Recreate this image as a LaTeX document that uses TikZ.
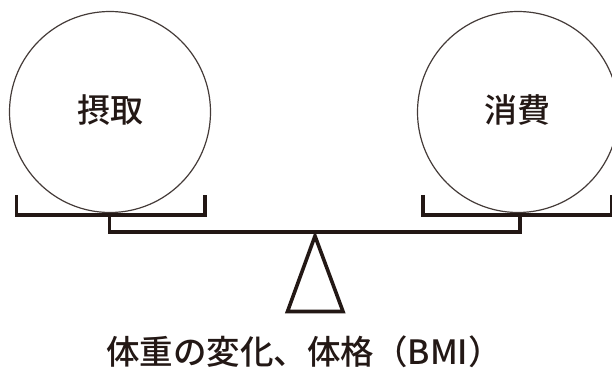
\documentclass[tikz,border=0pt]{standalone}
\usepackage{fontspec}
\newfontfamily\jp{Noto Sans CJK JP Medium}
\definecolor{ink}{HTML}{231815}
\begin{document}
\begin{tikzpicture}[x=1pt,y=-1pt,
  pan/.style={line width=3.6pt,draw=ink,line cap=butt,line join=miter},
  weight/.style={circle,draw=ink!85,line width=1.2pt,minimum size=201pt,inner sep=0pt},
  wlabel/.style={font=\jp\fontsize{33}{36}\selectfont,text=ink,inner sep=0pt},
  lbl/.style={font=\jp\fontsize{33.5}{36}\selectfont,text=ink,inner sep=0pt}]
\useasboundingbox (0,0) rectangle (612,371);
\node[weight] (in) at (110,112) {};
\node[weight] (out) at (518,112) {};
\node[wlabel] (inl) at (110,110.5) {摂取};
\node[wlabel] (outl) at (517,110.5) {消費};
% left pan
\coordinate (lp1) at (16.5,195);
\coordinate (lp2) at (205,195);
\coordinate (ls) at (109.5,215);
\draw[pan] (lp1) -- (16.5,215) -- (205,215) -- (lp2);
% right pan
\coordinate (rp1) at (423,195);
\coordinate (rp2) at (612,195);
\coordinate (rs) at (520,215);
\draw[pan] (rp1) -- (423,215) -- (612,215) -- (rp2);
% beam
\draw[pan] (ls) -- (109.5,232) -- (520,232) -- (rs);
% fulcrum
\coordinate (apex) at (315,236);
\draw[pan] (apex) -- (343,311.5) -- (287.5,311.5) -- cycle;
\node[lbl] (cap) at (304,352) {体重の変化、体格（BMI）};
\end{tikzpicture}
\end{document}
